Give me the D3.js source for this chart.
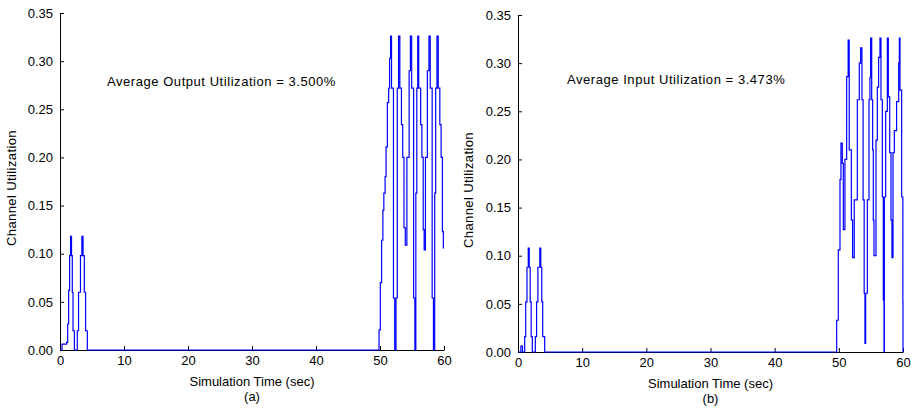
<!DOCTYPE html>
<html>
<head>
<meta charset="utf-8">
<script src="https://cdn.jsdelivr.net/npm/d3@7"></script>
<style>
    body { margin: 0; background: #fff; }
    svg { display: block; font-family: "Liberation Sans", Arial, sans-serif; }
    .tick text { font-size: 13px; fill: #000; }
    .lbl { font-size: 13px; fill: #000; }
    .note { letter-spacing: 0.55px; }
    .ylab { letter-spacing: 0.4px; }
</style>
</head>
<body>
<svg id="chart" width="914" height="409"></svg>
<script>
const xTicks = [0, 10, 20, 30, 40, 50, 60];
const yTicks = [0, 0.05, 0.10, 0.15, 0.20, 0.25, 0.30, 0.35];

// output channel (a): breakpoints of a step signal
const outputTime = [0, 0.31, 1.04, 1.2, 1.35, 1.5, 1.65, 1.8, 1.92, 2.03, 2.25,
    2.7, 2.9, 3.2, 3.42, 3.6, 3.8, 4.0, 4.27,
    49.85, 50.05, 50.25, 50.45, 50.6, 50.8, 50.95, 51.15, 51.35, 51.5, 51.65, 51.8, 52.1, 52.3,
    52.5, 52.7, 52.9, 53.1, 53.35, 53.55, 53.75, 53.95,
    54.2, 54.55, 54.75, 54.95, 55.25, 55.45,
    55.6, 55.75, 55.9, 56.05, 56.35, 56.55, 56.75, 56.9,
    57.1, 57.4, 57.65, 57.85, 58.15, 58.35,
    58.55, 58.7, 58.9, 59.1, 59.35, 59.55, 59.75, 59.9, 60];
const outputValue = [0, 0.006, 0.008, 0.027, 0.062, 0.098, 0.118, 0.098, 0.060, 0.020, 0,
    0.020, 0.060, 0.098, 0.118, 0.098, 0.060, 0.020, 0,
    0.021, 0.070, 0.114, 0.145, 0.163, 0.180, 0.211, 0.257, 0.272, 0.303, 0.326, 0.272, 0.054, 0,
    0.054, 0.272, 0.326, 0.272, 0.234, 0.200, 0.127, 0.109,
    0.200, 0.290, 0.326, 0.272, 0.054, 0,
    0.163, 0.272, 0.326, 0.272, 0.234, 0.200, 0.125, 0.104,
    0.200, 0.290, 0.326, 0.272, 0.054, 0,
    0.163, 0.272, 0.326, 0.272, 0.234, 0.200, 0.123, 0.106, 0.106];

// input channel (b)
const inputTime = [0, 0.45, 0.7, 1.04, 1.2, 1.4, 1.6, 1.75, 1.9, 2.05, 2.23,
    2.7, 2.9, 3.1, 3.4, 3.55, 3.7, 3.85, 4.16,
    49.66, 49.92, 50.18, 50.33, 50.54, 50.7, 50.95, 51.22, 51.45, 51.62, 51.95, 52.15,
    52.4, 52.88, 53.19, 53.4, 53.6, 53.78, 53.95, 54.07,
    54.18, 54.44, 54.7, 54.85, 54.96, 55.12, 55.27, 55.37, 55.48,
    55.79, 56.0, 56.2, 56.41, 56.57, 56.78, 56.93, 57.04,
    57.09, 57.3, 57.56, 57.71, 57.93, 58.13, 58.28,
    58.44, 58.65, 59.0, 59.33, 59.43, 59.53, 59.79, 59.98, 60];
const inputValue = [0, 0.006, 0, 0.016, 0.052, 0.088, 0.108, 0.088, 0.052, 0.016, 0,
    0.016, 0.052, 0.088, 0.108, 0.088, 0.052, 0.016, 0,
    0.033, 0.106, 0.179, 0.217, 0.196, 0.127, 0.200, 0.286, 0.324, 0.210, 0.137, 0.098,
    0.158, 0.262, 0.300, 0.316, 0.262, 0.158, 0.061, 0.009,
    0.061, 0.158, 0.262, 0.285, 0.326, 0.262, 0.210, 0.137, 0.100,
    0.220, 0.275, 0.306, 0.326, 0.262, 0.161, 0.054, 0,
    0.161, 0.250, 0.326, 0.265, 0.207, 0.137, 0.098,
    0.207, 0.230, 0.260, 0.300, 0.326, 0.272, 0.161, 0.052, 0];

const panels = [
    {
        time: outputTime, value: outputValue,
        left: 60, right: 444, top: 13, bottom: 350,
        note: 'Average Output Utilization = 3.500%', noteX: 107, noteY: 86,
        tag: '(a)', ylabelX: 16, ylabelY: 188
    },
    {
        time: inputTime, value: inputValue,
        left: 518, right: 903, top: 15, bottom: 352,
        note: 'Average Input Utilization = 3.473%', noteX: 567, noteY: 84,
        tag: '(b)', ylabelX: 473, ylabelY: 190
    }
];

const svg = d3.select('#chart');

function drawPanel(p) {
    const g = svg.append('g');

    const x = d3.scaleLinear().domain([0, 60]).range([p.left, p.right]);
    const y = d3.scaleLinear().domain([0, 0.35]).range([p.bottom, p.top]);

    const xAxis = d3.axisBottom(x)
        .tickValues(xTicks)
        .tickFormat(d3.format('d'))
        .tickSizeInner(-4)
        .tickSizeOuter(0)
        .tickPadding(6);
    const yAxis = d3.axisLeft(y)
        .tickValues(yTicks)
        .tickFormat(d3.format('.2f'))
        .tickSizeInner(-4)
        .tickSizeOuter(0)
        .tickPadding(7);

    g.append('g')
        .attr('transform', `translate(0,${p.bottom})`)
        .call(xAxis);
    g.append('g')
        .attr('transform', `translate(${p.left},0)`)
        .call(yAxis);

    g.selectAll('.domain, .tick line').attr('stroke', '#000').attr('stroke-width', 1);

    const pts = p.time.map((t, i) => [t, p.value[i]]);
    const line = d3.line()
        .x(d => x(d[0]))
        .y(d => y(d[1]))
        .curve(d3.curveStepAfter);

    g.append('path')
        .datum(pts)
        .attr('fill', 'none')
        .attr('stroke', '#0000ff')
        .attr('stroke-width', 1.2)
        .attr('d', line);

    g.append('text')
        .attr('class', 'lbl note')
        .attr('x', p.noteX)
        .attr('y', p.noteY)
        .text(p.note);

    const cx = (p.left + p.right) / 2;
    g.append('text')
        .attr('class', 'lbl')
        .attr('x', cx)
        .attr('y', p.bottom + 36)
        .attr('text-anchor', 'middle')
        .text('Simulation Time (sec)');
    g.append('text')
        .attr('class', 'lbl')
        .attr('x', cx)
        .attr('y', p.bottom + 51)
        .attr('text-anchor', 'middle')
        .text(p.tag);

    g.append('text')
        .attr('class', 'lbl ylab')
        .attr('transform', `translate(${p.ylabelX},${p.ylabelY}) rotate(-90)`)
        .attr('text-anchor', 'middle')
        .text('Channel Utilization');
}

panels.forEach(drawPanel);
</script>
</body>
</html>
